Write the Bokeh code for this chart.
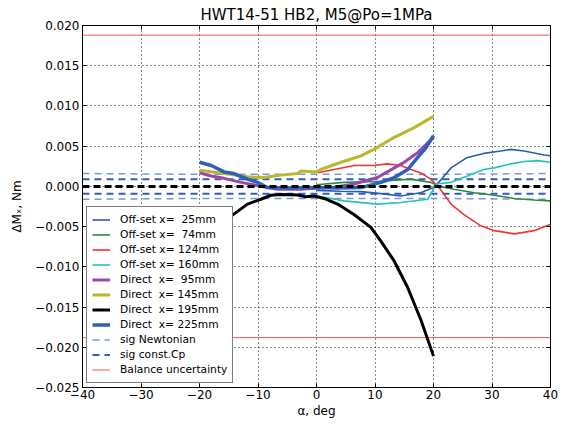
from bokeh.plotting import figure
from bokeh.models import (Range1d, LinearAxis, FixedTicker, CustomJSTickFormatter,
                          Legend, LegendItem, Span)
from bokeh.embed import file_html
from bokeh.resources import INLINE

# ---------------- data ----------------
a_off25 = [0, 4, 7.6, 11, 14.4, 17.8, 20.1, 21.5, 23.0, 25.8, 28.6, 31.5, 33.2, 35.5, 38.9, 40]
m_off25 = [-0.0005, -0.0006, -0.00065, -0.0009, -0.0012, -0.0008, -0.0001, 0.0010, 0.0023,
           0.0036, 0.0041, 0.0044, 0.0046, 0.0044, 0.0039, 0.0038]

a_off74 = [0, 4.7, 10.4, 16.1, 19.5, 21, 23.5, 27.0, 30.4, 33.8, 37.2, 40]
m_off74 = [0.0002, 0.0005, 0.0006, 0.0009, 0.0005, 0.0, -0.00035, -0.0008, -0.0011, -0.0015,
           -0.0017, -0.0018]

a_off124 = [0.2, 3.0, 6.4, 9.8, 12.1, 14.4, 16.1, 17.8, 19.5, 21.0, 23.0, 25.2, 28.1, 30.4,
            33.8, 37.2, 40]
m_off124 = [0.0017, 0.0021, 0.0026, 0.0026, 0.0028, 0.0026, 0.0021, 0.0017, 0.0009, -0.0002,
            -0.0022, -0.0035, -0.0049, -0.0055, -0.0059, -0.0055, -0.0047]

a_off160 = [0.2, 4.7, 10.4, 14.4, 19.0, 20.5, 23.0, 25.8, 28.6, 30.4, 33.2, 35.5, 37.8, 40]
m_off160 = [-0.0012, -0.0018, -0.0022, -0.0020, -0.0016, 0.0003, 0.0005, 0.0013, 0.0021,
            0.0023, 0.0028, 0.0031, 0.0032, 0.0030]

a_dir95 = [-20, -18, -15.8, -12.9, -10.1, -6.7, -2.7, 0.2, 3.0, 6.4, 10.4, 13.3, 15.0, 17.3, 20]
m_dir95 = [0.0017, 0.0013, 0.0010, 0.0005, 0.0001, -0.00035, -0.00035, -0.0002, -0.0001,
           0.0003, 0.0011, 0.0023, 0.0030, 0.0042, 0.0061]

a_dir145 = [-20, -15.8, -11.8, -9.0, -6.1, -3.2, -2.7, -0.1, 0.7, 4.2, 7.6, 9.8, 13.3, 16.7, 20]
m_dir145 = [0.0020, 0.0016, 0.0012, 0.0011, 0.0014, 0.0016, 0.0019, 0.0018, 0.0021, 0.0030,
            0.0038, 0.0046, 0.0061, 0.0073, 0.0087]

a_dir195 = [-20, -17, -14.6, -11.8, -9.5, -7.8, -6.1, -3.2, -1.8, -0.4, 1.3, 3.6, 6.4, 9.3,
            11.0, 13.3, 15.6, 17.9, 20.0]
m_dir195 = [-0.0062, -0.0050, -0.0037, -0.0022, -0.0016, -0.0011, -0.0010, -0.00106, -0.0013,
            -0.0012, -0.0015, -0.0022, -0.0035, -0.0051, -0.0068, -0.0093, -0.0126, -0.0167,
            -0.0211]

a_dir225 = [-20, -18, -15.8, -14.1, -11.8, -10.1, -8.4, -4.4, 0.2, 3.5, 7.6, 11.0, 13.3, 15.6,
            17.3, 18.7, 20]
m_dir225 = [0.0030, 0.0026, 0.0018, 0.0016, 0.0009, 0.0005, -0.00015, -0.0002, -0.00015,
            -0.0002, -0.00015, 0.0005, 0.0011, 0.0021, 0.0036, 0.0048, 0.0063]

a_sig = [-40, -20, 0, 20, 40]
sig_newt = [0.0016, 0.0015, 0.0015, 0.0015, 0.0016]
sig_cp = [0.0009, 0.0009, 0.0009, 0.0009, 0.0009]

a_bal = [-40, 40]
bal_unc = [0.0188, 0.0188]

x_ticks = [-40, -30, -20, -10, 0, 10, 20, 30, 40]
y_ticks = [-0.025, -0.020, -0.015, -0.010, -0.005, 0.0, 0.005, 0.010, 0.015, 0.020]

FONT = "DejaVu Sans"

p = figure(width=564, height=425, output_backend="svg", toolbar_location=None,
           x_range=Range1d(-40, 40), y_range=Range1d(-0.025, 0.020),
           title="HWT14-51 HB2, M5@Po=1MPa",
           min_border_left=82, min_border_right=14, min_border_top=25, min_border_bottom=38)
p.title.align = "center"
p.title.text_font = FONT
p.title.text_font_size = "15px"
p.title.text_font_style = "normal"
p.title.text_color = "black"
p.title.offset = 0
p.title.standoff = 3

p.outline_line_color = "black"
p.outline_line_width = 1
p.outline_line_alpha = 1
p.background_fill_color = "white"
p.border_fill_color = "white"

fmt_x = CustomJSTickFormatter(code="return (tick < 0 ? '\u2212' : '') + Math.abs(tick).toFixed(0);")
fmt_y = CustomJSTickFormatter(code="return (tick < -1e-9 ? '\u2212' : '') + Math.abs(tick).toFixed(3);")
fmt_none = CustomJSTickFormatter(code="return '';")

for ax, ticks, fmt in ((p.xaxis[0], x_ticks, fmt_x), (p.yaxis[0], y_ticks, fmt_y)):
    ax.ticker = FixedTicker(ticks=ticks)
    ax.formatter = fmt
    ax.major_tick_in = 4
    ax.major_tick_out = 0
    ax.minor_tick_line_color = None
    ax.axis_line_color = "black"
    ax.major_tick_line_color = "black"
    ax.major_label_text_font = FONT
    ax.major_label_text_font_size = "12px"
    ax.major_label_text_color = "black"
    ax.axis_label_text_font = FONT
    ax.axis_label_text_font_size = "12px"
    ax.axis_label_text_font_style = "normal"
    ax.axis_label_text_color = "black"

p.xaxis[0].axis_label = "\u03b1, deg"
p.xaxis[0].major_label_standoff = 2
p.xaxis[0].axis_label_standoff = 2
p.yaxis[0].axis_label = "\u0394M\u2093, Nm"
p.yaxis[0].major_label_standoff = 3
p.yaxis[0].axis_label_standoff = 8

# mirrored ticks on top/right
for side, ticks in (("above", x_ticks), ("right", y_ticks)):
    ax = LinearAxis(ticker=FixedTicker(ticks=ticks), formatter=fmt_none)
    ax.major_tick_in = 4
    ax.major_tick_out = 0
    ax.minor_tick_line_color = None
    ax.axis_line_color = None
    ax.major_tick_line_color = "black"
    ax.major_label_standoff = 0
    p.add_layout(ax, side)

p.xgrid.ticker = FixedTicker(ticks=x_ticks)
p.ygrid.ticker = FixedTicker(ticks=y_ticks)
p.grid.grid_line_color = "black"
p.grid.grid_line_dash = "1 3"
p.grid.grid_line_alpha = 0.9
p.grid.grid_line_width = 1

# uncertainty / sigma lines
neg = lambda arr: [-v for v in arr]
r_newt = p.line(a_sig, sig_newt, line_color="#7b98d4", line_width=1.5, line_dash="7 5")
p.line(a_sig, neg(sig_newt), line_color="#7b98d4", line_width=1.5, line_dash="7 5")
r_cp = p.line(a_sig, sig_cp, line_color="#2f5fb8", line_width=2, line_dash="7 5")
p.line(a_sig, neg(sig_cp), line_color="#2f5fb8", line_width=2, line_dash="7 5")
r_bal = p.line(a_bal, bal_unc, line_color="#ff3030", line_width=1, line_alpha=0.85)
p.line(a_bal, neg(bal_unc), line_color="#ff3030", line_width=1, line_alpha=0.85)

# series
r1 = p.line(a_off25, m_off25, line_color="#2a5cb0", line_width=1.6)
r2 = p.line(a_off74, m_off74, line_color="#2f8a3e", line_width=1.6)
r3 = p.line(a_off124, m_off124, line_color="#f23434", line_width=1.6)
r4 = p.line(a_off160, m_off160, line_color="#26c0b8", line_width=1.6)
r5 = p.line(a_dir95, m_dir95, line_color="#9a48a8", line_width=3)
r6 = p.line(a_dir145, m_dir145, line_color="#b8b82a", line_width=3)
r7 = p.line(a_dir195, m_dir195, line_color="black", line_width=3)
r8 = p.line(a_dir225, m_dir225, line_color="#2f5fb8", line_width=3.5)

# zero line
p.add_layout(Span(location=0, dimension="width", line_color="black", line_width=3,
                  line_dash="7 4"))

legend = Legend(items=[
    LegendItem(label="Off-set x=  25mm", renderers=[r1]),
    LegendItem(label="Off-set x=  74mm", renderers=[r2]),
    LegendItem(label="Off-set x= 124mm", renderers=[r3]),
    LegendItem(label="Off-set x= 160mm", renderers=[r4]),
    LegendItem(label="Direct  x=  95mm", renderers=[r5]),
    LegendItem(label="Direct  x= 145mm", renderers=[r6]),
    LegendItem(label="Direct  x= 195mm", renderers=[r7]),
    LegendItem(label="Direct  x= 225mm", renderers=[r8]),
    LegendItem(label="sig Newtonian", renderers=[r_newt]),
    LegendItem(label="sig const.Cp", renderers=[r_cp]),
    LegendItem(label="Balance uncertainty", renderers=[r_bal]),
], location="bottom_left")
legend.margin = 4
legend.padding = 5
legend.spacing = 0
legend.label_text_font = FONT
legend.label_text_font_size = "10.7px"
legend.label_text_color = "black"
legend.label_height = 15
legend.glyph_height = 15
legend.glyph_width = 18
legend.label_standoff = 10
legend.border_line_color = "black"
legend.border_line_width = 1
legend.background_fill_color = "white"
legend.background_fill_alpha = 1
p.add_layout(legend)

open("out.html", "w").write(file_html(p, INLINE))
